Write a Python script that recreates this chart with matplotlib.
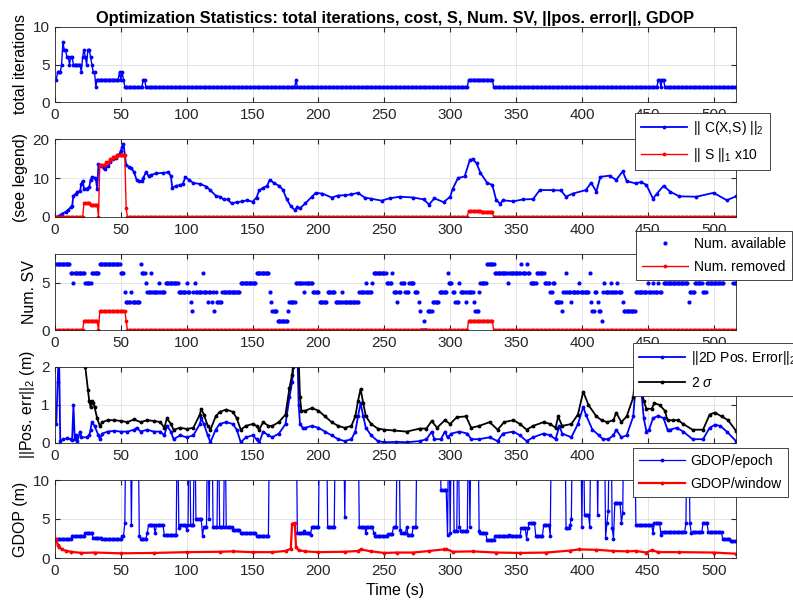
import matplotlib
matplotlib.use('Agg')
import matplotlib.pyplot as plt
import numpy as np

plt.rcParams.update({
    'font.family': ['Liberation Sans', 'DejaVu Sans'],
    'font.size': 11,
    'axes.labelsize': 11.5,
    'xtick.labelsize': 11,
    'ytick.labelsize': 11,
    'legend.fontsize': 10,
    'axes.linewidth': 0.6,
    'axes.edgecolor': '#262626',
    'xtick.color': '#262626',
    'ytick.color': '#262626',
    'xtick.direction': 'in',
    'ytick.direction': 'in',
    'xtick.top': True,
    'ytick.right': True,
    'xtick.major.size': 3.5,
    'ytick.major.size': 3.5,
    'mathtext.fontset': 'custom',
    'mathtext.rm': 'Liberation Sans',
    'mathtext.it': 'Liberation Sans:italic',
})

T_END = 517

# ---- total iterations (run-length: start second, value) ----
iter_start = [1, 2, 5, 6, 7, 9, 11, 12, 14, 20, 21, 22, 23, 24, 25, 27, 28, 29, 31, 32,
              49, 50, 51, 52, 53, 67, 69, 183, 184, 314, 333, 458, 460, 461, 463]
iter_vals = [3, 4, 5, 8, 7, 6, 5, 6, 5, 4, 6, 7, 6, 5, 7, 6, 5, 4, 2, 3,
             4, 3, 4, 3, 2, 3, 2, 3, 2, 3, 2, 3, 2, 3, 2]

# ---- cost || C(X,S) ||_2 ----
cost_t = [1, 3, 5, 8, 10, 12, 13, 14, 16, 17, 19, 20, 21, 22, 24, 26, 27, 28, 30, 31, 32,
          33, 35, 37, 38, 40, 42, 44, 46, 48, 49, 50, 51, 52, 54, 56, 58, 60, 62, 64, 66,
          67, 69, 71, 73, 77, 82, 86, 88, 89, 92, 95, 97, 99, 102, 105, 110, 115, 118,
          122, 125, 128, 131, 134, 138, 142, 146, 150, 153, 155, 158, 161, 163, 166, 170,
          173, 176, 179, 182, 184, 186, 190, 195, 198, 203, 210, 215, 220, 225, 230, 235,
          240, 248, 254, 262, 272, 280, 284, 288, 295, 300, 302, 306, 311, 315, 317, 320,
          323, 328, 332, 335, 338, 340, 348, 355, 363, 368, 378, 384, 388, 393, 403, 407,
          411, 414, 421, 426, 431, 434, 441, 445, 449, 454, 457, 462, 467, 474, 487, 500,
          510, 517]
cost_v = [0, 0.3, 0.8, 1.3, 1.8, 2.5, 2.8, 5.5, 6.0, 6.5, 6.6, 8.5, 9.2, 7.3, 7.3, 7.7, 9.5,
          10.2, 10.1, 9.8, 7.3,
          13.5, 13.0, 12.5, 12.3, 13.0, 14.0, 15.0, 15.2, 15.8, 16.2, 17.0, 18.0, 18.8, 13.3,
          12.9, 12.5, 11.5, 9.5, 9.2, 9.3,
          10.0, 11.5, 10.5, 10.8, 11.2, 11.3, 11.5, 10.5, 7.5, 8.0, 8.2, 8.5, 10.2, 9.5, 8.7,
          8.5, 7.8, 6.8,
          5.5, 5.2, 4.5, 4.5, 3.5, 3.8, 4.0, 4.3, 3.9, 5.0, 6.8, 7.5, 8.0, 9.5, 8.8, 8.0,
          7.0, 4.5, 2.8, 1.8, 2.5, 2.2, 3.5, 5.2, 6.2, 6.0, 5.0, 5.5, 5.6, 5.8, 6.2, 5.0,
          4.7, 4.2, 4.8, 5.2, 5.0, 4.5, 3.2, 4.8, 3.8, 5.2, 7.3, 10.0, 10.4, 14.7, 14.8, 13.8,
          11.3, 8.8, 8.2, 4.3, 3.4, 4.3, 4.0, 4.5, 4.6, 6.9, 6.9, 6.8, 5.2, 6.0, 6.9, 8.8,
          6.5, 10.3, 10.6, 9.5, 11.7, 9.2, 8.6, 9.0, 8.2, 4.7, 6.0, 8.0, 6.5, 5.3, 5.2, 6.2,
          4.3, 5.3]

# ---- || S ||_1 x10 (run-length) ----
s_start = [1, 22, 27, 33, 34, 39, 42, 44, 47, 54, 55, 314, 324, 333]
s_vals = [0, 3.5, 3.2, 0, 13.4, 14.0, 14.8, 15.5, 16.0, 2.2, 0, 1.6, 1.4, 0]

# ---- Num. SV available (run-length) ----
sv_start = [1, 12, 14, 15, 23, 28, 34, 50, 53, 54, 58, 59, 64, 65, 66, 69, 70, 73, 74, 79,
            80, 84, 94, 100, 101, 103, 104, 105, 106, 107, 112, 113, 116, 117, 119, 120, 121,
            122, 123, 127, 141, 153, 163, 164, 165, 169, 177, 178, 183, 189, 190, 196, 201,
            207, 213, 218, 219, 231, 236, 237, 241, 242, 247, 252, 256, 257, 260, 261, 263,
            266, 269, 273, 276, 277, 278, 280, 281, 283, 287, 292, 298, 299, 302, 304, 307,
            308, 312, 313, 318, 319, 322, 323, 328, 334, 344, 345, 354, 355, 358, 359, 361,
            366, 372, 376, 378, 380, 385, 386, 388, 389, 392, 393, 398, 399, 406, 407, 408,
            410, 412, 413, 415, 416, 417, 418, 422, 423, 427, 428, 431, 432, 441, 450, 451,
            454, 455, 458, 459, 461, 462, 481, 482, 486, 492, 495, 508, 515]
sv_vals = [7, 6, 5, 6, 5, 6, 7, 6, 4, 3, 4, 3, 3, 7, 6, 5, 4, 6, 4, 5,
           4, 5, 4, 5, 4, 3, 2, 4, 5, 4, 6, 4, 3, 4, 3, 4, 2,
           4, 3, 4, 5, 6, 4, 3, 2, 1, 2, 3, 5, 4, 5, 4, 3,
           4, 3, 4, 3, 4, 5, 4, 5, 6, 6, 5, 6, 4, 3, 4, 5,
           4, 5, 4, 3, 2, 0, 1, 0, 2, 3, 4, 6, 5, 4, 3, 5,
           4, 3, 4, 3, 2, 4, 5, 7, 6, 5, 6, 7, 6, 7, 6, 5,
           6, 5, 4, 5, 3, 2, 4, 6, 4, 3, 4, 5, 4, 6, 3, 2,
           4, 3, 2, 1, 4, 5, 4, 5, 4, 5, 4, 3, 2, 4, 5, 4,
           5, 4, 5, 4, 6, 5, 3, 4, 5, 4, 5, 6, 5]

# ---- Num. removed (run-length) ----
rm_start = [1, 22, 33, 34, 54, 55, 314, 333]
rm_vals = [0, 1, 0, 2, 1, 0, 1, 0]

# ---- ||2D pos. error||_2 ----
err_t = [1, 2, 3, 4, 6, 9, 12, 13, 14, 15, 16, 17, 19, 20, 24, 26, 27, 28, 30, 33, 34, 36,
         40, 45, 50, 55, 60, 62, 65, 70, 75, 80, 83, 85, 88, 90, 95, 100, 105, 110, 111,
         113, 116, 118, 122, 125, 130, 135, 138, 141, 145, 150, 153, 155, 158, 162, 165,
         170, 175, 178, 180, 181, 182, 184, 185, 186, 188, 190, 195, 200, 205, 210, 215,
         220, 225, 228, 230, 232, 234, 236, 240, 245, 250, 259, 267, 277, 282, 286, 288,
         293, 296, 298, 301, 307, 313, 316, 322, 330, 336, 340, 348, 353, 358, 363, 371,
         376, 380, 383, 385, 392, 397, 401, 403, 408, 413, 416, 420, 424, 426, 430, 434,
         439, 441, 443, 445, 447, 449, 451, 454, 458, 462, 465, 467, 472, 477, 484, 492,
         497, 501, 505, 510, 517]
err_v = [0.5, 1.6, 2.5, 0.05, 0.1, 0.12, 0.1, 0.08, 1.0, 0.1, 0.2, 0.05, 0.3, 0.15, 0.15,
         0.2, 0.35, 0.55, 0.45, 0.2, 0.1, 0.25,
         0.3, 0.32, 0.3, 0.3, 0.35, 0.4, 0.3, 0.35, 0.3, 0.3, 0.2, 0.45, 0.3, 0.1, 0.2, 0.15,
         0.2, 0.5, 0.65,
         0.5, 0.2, 0.02, 0.35, 0.5, 0.55, 0.5, 0.35, 0.02, 0.15, 0.2, 0.1, 0.0, 0.3, 0.2, 0.15,
         0.25, 0.5, 1.2, 1.6, 2.0, 2.6, 2.4, 1.0, 0.5, 0.4, 0.4, 0.45, 0.4, 0.3, 0.2, 0.1,
         0.05, 0.1, 0.3, 0.7, 1.05, 0.7, 0.4, 0.2, 0.05, 0.02, 0.03, 0.02, 0.05, 0.1, 0.3, 0.1,
         0.1, 0.3, 0.15, 0.25, 0.3, 0.25, 0.1, 0.1, 0.15, 0.05, 0.25, 0.3, 0.2, 0.05, 0.15,
         0.25,
         0.2, 0.1, 0.45, 0.25, 0.15, 0.5, 0.95, 0.75, 0.35, 0.2, 0.1, 0.1, 0.2, 0.35, 0.15,
         0.2,
         0.7, 1.6, 2.3, 1.4, 0.65, 0.3, 0.35, 0.65, 0.72, 0.65, 0.35, 0.35, 0.4, 0.3, 0.1, 0.1,
         0.4, 0.48, 0.45, 0.3, 0.05]

# ---- 2 sigma ----
sig_t = [1, 10, 18, 23, 25, 26, 27, 28, 29, 30, 32, 34, 36, 40, 45, 50, 55, 60, 65, 70, 75,
         80, 83, 85, 88, 90, 95, 100, 105, 110, 111, 113, 116, 118, 122, 125, 130, 135, 138,
         141, 145, 150, 153, 155, 158, 162, 165, 170, 175, 178, 180, 181, 183, 185, 186,
         187, 190, 195, 200, 205, 210, 215, 220, 225, 228, 230, 232, 234, 236, 240, 245,
         250, 257, 267, 277, 282, 286, 290, 296, 300, 305, 312, 316, 322, 330, 336, 341,
         348, 353, 358, 363, 371, 376, 380, 382, 385, 392, 397, 401, 405, 411, 415, 419,
         424, 426, 430, 434, 439, 441, 443, 445, 447, 449, 453, 455, 459, 463, 465, 469,
         473, 477, 484, 492, 497, 501, 506, 511, 517]
sig_v = [5.0, 3.5, 2.6, 2.0, 1.4, 1.1, 0.95, 1.1, 1.05, 0.95, 0.65, 0.45, 0.55, 0.6, 0.6,
         0.58, 0.55, 0.62, 0.55, 0.6, 0.58,
         0.55, 0.4, 0.65, 0.5, 0.35, 0.4, 0.37, 0.4, 0.75, 0.9, 0.75, 0.45, 0.35, 0.7, 0.82,
         0.88, 0.82, 0.65,
         0.35, 0.45, 0.5, 0.45, 0.35, 0.55, 0.45, 0.45, 0.55, 0.75, 1.45, 1.8, 2.1, 2.8, 2.2,
         1.2,
         0.85, 0.85, 0.92, 0.85, 0.7, 0.55, 0.45, 0.4, 0.45, 0.7, 1.1, 1.42, 1.05, 0.7, 0.5,
         0.38,
         0.35, 0.33, 0.3, 0.38, 0.38, 0.58, 0.4, 0.6, 0.5, 0.68, 0.7, 0.4, 0.45, 0.55, 0.35,
         0.55,
         0.6, 0.5, 0.35, 0.45, 0.55, 0.5, 0.4, 0.7, 0.45, 0.5, 0.75, 1.35, 1.0, 0.7, 0.6, 0.55,
         0.6, 0.8, 0.55, 0.7, 1.2, 2.0, 2.6, 1.5, 1.1, 0.9, 0.9, 1.05, 1.0, 0.85, 0.6, 0.6,
         0.6, 0.5, 0.35, 0.35, 0.75, 0.8, 0.7, 0.6, 0.32]

# ---- GDOP per epoch (run-length, 20 = off the top of the axis) ----
ge_start = [1, 13, 23, 29, 36, 51, 53, 54, 58, 59, 64, 65, 70, 71, 76, 77, 83, 93, 94, 95,
            100, 101, 102, 103, 106, 107, 112, 113, 116, 117, 118, 120, 124, 125, 129, 130,
            135, 141, 153, 163, 184, 189, 190, 194, 195, 201, 207, 213, 220, 221, 231, 236,
            237, 242, 243, 249, 253, 257, 260, 262, 263, 267, 268, 272, 275, 293, 298, 299,
            300, 301, 303, 306, 307, 308, 314, 315, 316, 322, 323, 328, 334, 345, 346, 354,
            358, 359, 360, 365, 371, 376, 377, 388, 391, 392, 393, 400, 401, 402, 406, 407,
            412, 413, 418, 419, 420, 421, 423, 424, 425, 430, 431, 432, 441, 454, 455, 460,
            461, 479, 480, 482, 483, 484, 492, 496, 507, 513]
ge_vals = [2.4, 2.8, 3.2, 2.6, 2.4, 2.8, 4.5, 20, 4.2, 20, 2.8, 2.5, 3.2, 4.2, 3.2, 4.2, 2.9,
           20, 3.8, 4.2,
           3.6, 4.2, 20, 4.2, 20, 5.0, 2.8, 4.0, 20, 5.0, 20, 4.0, 20, 4.0, 20, 4.0,
           3.6, 3.2, 2.8, 20, 3.2, 3.5, 3.2, 3.0, 4.0, 20, 4.0, 20, 5.2, 20, 4.0, 3.2,
           4.0, 3.2, 2.8, 2.8, 3.1, 4.0, 20, 3.6, 3.2, 4.0, 3.0, 4.0, 20, 8.7, 3.0, 20,
           3.2, 20, 3.4, 20, 4.0, 3.4, 20, 4.0, 20, 3.4, 3.2, 2.3, 2.8, 3.0, 2.8, 3.8,
           2.5, 3.8, 4.5, 2.8, 4.2, 2.8, 20, 3.8, 4.2, 5.0, 20, 4.0, 20, 5.5, 4.0, 20,
           5.5, 20, 2.6, 4.5, 6.0, 20, 3.8, 2.5, 7.0, 4.5, 5.8, 20, 4.2, 3.2, 4.5, 3.0,
           3.3, 4.5, 20, 4.5, 3.2, 3.3, 4.5, 3.3, 2.4, 2.2]

# ---- GDOP per window ----
gw_t = [1, 2, 3, 5, 8, 12, 20, 30, 50, 75, 100, 125, 135, 150, 165, 175, 179, 180, 182, 183,
        185, 190, 200, 220, 230, 232, 240, 250, 260, 272, 284, 295, 297, 302, 317, 335, 353,
        373, 391, 398, 411, 424, 434, 441, 449, 453, 458, 474, 500, 517]
gw_v = [2.4, 1.7, 1.4, 1.1, 0.95, 0.8, 0.65, 0.7, 0.6, 0.65, 0.75, 0.8, 0.85, 0.75, 0.75,
        0.9, 1.2, 4.4, 4.5, 1.4,
        1.0, 0.85, 0.75, 0.8, 0.9, 1.1, 0.85, 0.65, 0.7, 0.7, 0.9, 1.1, 1.15, 0.8, 0.85, 0.7,
        0.65,
        0.7, 0.95, 1.1, 1.05, 0.9, 0.85, 0.9, 0.7, 1.0, 0.75, 0.75, 0.7, 0.55]


def expand(starts, vals):
    counts = np.diff(list(starts) + [T_END + 1])
    return np.repeat(vals, counts)


t_sec = np.arange(1, T_END + 1)
iters = expand(iter_start, iter_vals)
s_norm = expand(s_start, s_vals)
sv_avail = expand(sv_start, sv_vals)
sv_removed = expand(rm_start, rm_vals)
gdop_epoch = expand(ge_start, ge_vals)

W, H = 793, 609
fig = plt.figure(figsize=(W / 100, H / 100), dpi=100)

left, right = 55, 736
panels = [(27, 102), (139, 217), (254, 330), (367, 443), (480, 558)]
axes = []
for top, bot in panels:
    ax = fig.add_axes([left / W, 1 - bot / H, (right - left) / W, (bot - top) / H])
    axes.append(ax)

blue = (0, 0, 1)
red = (1, 0, 0)
mk = dict(marker='.', markersize=3.5)

ax1, ax2, ax3, ax4, ax5 = axes

ax1.plot(t_sec, iters, color=blue, lw=1.0, **mk)
ax1.set_ylim(0, 10)
ax1.set_yticks([0, 5, 10])
ax1.set_ylabel('total iterations')
ax1.set_title('Optimization Statistics: total iterations, cost, S, Num. SV, ||pos. error||, GDOP',
              fontsize=11.8, fontweight='bold', pad=3)

ax2.plot(cost_t, cost_v, color=blue, lw=1.3, label=r'|| C(X,S) ||$_2$', **mk)
ax2.plot(t_sec, s_norm, color=red, lw=1.0, label=r'|| S ||$_1$ x10', **mk)
ax2.set_ylim(0, 20)
ax2.set_yticks([0, 10, 20])
ax2.set_ylabel('(see legend)')

ax3.plot(t_sec, sv_avail, color=blue, lw=0, label='Num. available', marker='.', markersize=4)
ax3.plot(t_sec, sv_removed, color=red, lw=1.0, label='Num. removed', **mk)
ax3.set_ylim(0, 8)
ax3.set_yticks([0, 5])
ax3.set_ylabel('Num. SV')

ax4.plot(err_t, err_v, color=blue, lw=1.3, label=r'||2D Pos. Error||$_2$', **mk)
ax4.plot(sig_t, sig_v, color='black', lw=1.3, label=r'2 $\sigma$', **mk)
ax4.set_ylim(0, 2)
ax4.set_yticks([0, 1, 2])
ax4.set_ylabel(r'||Pos. err||$_2$ (m)')

ax5.plot(t_sec, gdop_epoch, color=blue, lw=0.9, label='GDOP/epoch', **mk)
ax5.plot(gw_t, gw_v, color=red, lw=1.6, label='GDOP/window', **mk)
ax5.set_ylim(0, 10)
ax5.set_yticks([0, 5, 10])
ax5.set_ylabel('GDOP (m)')
ax5.set_xlabel('Time (s)')

for ax in axes:
    ax.set_xlim(0, T_END)
    ax.set_xticks(np.arange(0, 501, 50))
    ax.grid(True, color='#e0e0e0', linewidth=0.6)
    ax.set_axisbelow(True)
    ax.yaxis.labelpad = 3
    ax.tick_params(pad=4)

legend_pos = {1: (635, 113), 2: (636, 231), 3: (633, 343), 4: (633, 448)}
for i, (px, py) in legend_pos.items():
    leg = axes[i].legend(loc='upper left', bbox_to_anchor=(px / W, 1 - py / H),
                         bbox_transform=fig.transFigure, numpoints=1,
                         fancybox=False, framealpha=1, edgecolor='#262626',
                         handlelength=3.3, handletextpad=0.4, labelspacing=0.6,
                         borderaxespad=0, borderpad=0.45)
    leg.get_frame().set_linewidth(0.6)
    leg.set_zorder(10)

fig.savefig('out.png', dpi=100)
